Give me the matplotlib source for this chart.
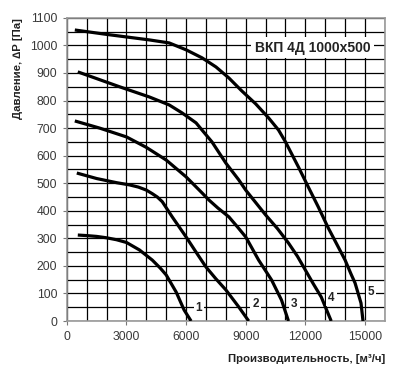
import matplotlib
matplotlib.use("Agg")
import matplotlib.pyplot as plt
import numpy as np

plt.rcParams['font.family'] = ['Liberation Sans', 'DejaVu Sans']

# curve data: flow [m3/h], pressure [Pa]
x1 = [550, 1000, 1500, 2000, 2500, 3000, 3650, 4300, 4700, 5000, 5500, 5900, 6250]
y1 = [312, 310, 307, 302, 295, 285, 258, 221, 192, 167, 105, 40, 0]

x2 = [500, 1500, 2500, 3150, 3600, 4000, 4300, 4550, 4800, 5300, 6000, 6500, 7000, 7500, 8000, 8650, 9150]
y2 = [537, 517, 502, 494, 486, 475, 462, 450, 433, 378, 305, 250, 196, 153, 113, 51, 0]

x3 = [400, 1650, 3000, 4000, 5000, 6000, 6800, 7150, 7600, 8150, 8600, 9000, 9650, 10300, 10800, 11150]
y3 = [726, 700, 668, 630, 584, 523, 465, 439, 410, 378, 340, 305, 221, 149, 76, 0]

x4 = [550, 2650, 4150, 5150, 5800, 6500, 6800, 7300, 8000, 8650, 9000, 9500, 10000, 10600, 11150, 11600, 12000, 12400, 12800, 13300]
y4 = [904, 850, 813, 784, 755, 719, 693, 650, 573, 512, 475, 430, 385, 335, 283, 235, 185, 135, 87, 0]

x5 = [400, 2000, 4150, 5150, 6000, 6800, 7500, 8150, 8800, 9500, 10150, 10650, 11000, 11650, 12150, 12650, 13150, 13500, 14000, 14300, 14500, 14800, 14900]
y5 = [1056, 1040, 1020, 1009, 984, 955, 922, 882, 835, 788, 737, 693, 650, 559, 486, 414, 338, 290, 221, 170, 138, 65, 0]

curves = [(x1, y1), (x2, y2), (x3, y3), (x4, y4), (x5, y5)]
curve_names = ['1', '2', '3', '4', '5']
label_x = [6650, 9500, 11450, 13300, 15300]
label_y = [47, 60, 60, 85, 105]

fig = plt.figure(figsize=(3.98, 3.72), dpi=100)
ax = fig.add_axes([0.168, 0.137, 0.799, 0.815])

for xs, ys in curves:
    ax.plot(xs, ys, color='black', linewidth=2.3, solid_capstyle='butt',
            solid_joinstyle='round', zorder=3)

for name, lx, ly in zip(curve_names, label_x, label_y):
    ax.text(lx, ly, name, fontsize=8.5, fontweight='bold', color='#222222',
            ha='center', va='center', zorder=4,
            bbox=dict(facecolor='white', edgecolor='none', pad=1.5))

ax.text(12350, 992, 'ВКП 4Д 1000x500', fontsize=10, fontweight='bold', color='#222222',
        ha='center', va='center', zorder=4,
        bbox=dict(facecolor='white', edgecolor='none', pad=2.5))

ax.set_xlim(0, 16000)
ax.set_ylim(0, 1100)
ax.set_xticks(np.arange(0, 16000, 3000))
ax.set_yticks(np.arange(0, 1101, 100))
ax.set_xticks(np.arange(0, 16001, 1000), minor=True)
ax.set_yticks(np.arange(0, 1101, 50), minor=True)
ax.grid(True, which='both', color='black', linewidth=0.9)
ax.tick_params(which='minor', length=0)
ax.tick_params(which='major', length=3, color='#777777', labelsize=8.8, labelcolor='#3a3a3a', pad=4)

for s in ax.spines.values():
    s.set_color('#999999')
    s.set_linewidth(1.2)

ax.set_xlabel('Производительность, [м³/ч]', fontsize=8.2, fontweight='bold', color='#222222')
ax.xaxis.set_label_coords(1.0, -0.11)
ax.xaxis.label.set_horizontalalignment('right')
ax.set_ylabel('Давление, ∆Р [Па]', fontsize=8.2, fontweight='bold', color='#222222')
ax.yaxis.set_label_coords(-0.17, 1.0)
ax.yaxis.label.set_verticalalignment('top')
ax.yaxis.label.set_horizontalalignment('right')

fig.savefig('out.png', dpi=100)
